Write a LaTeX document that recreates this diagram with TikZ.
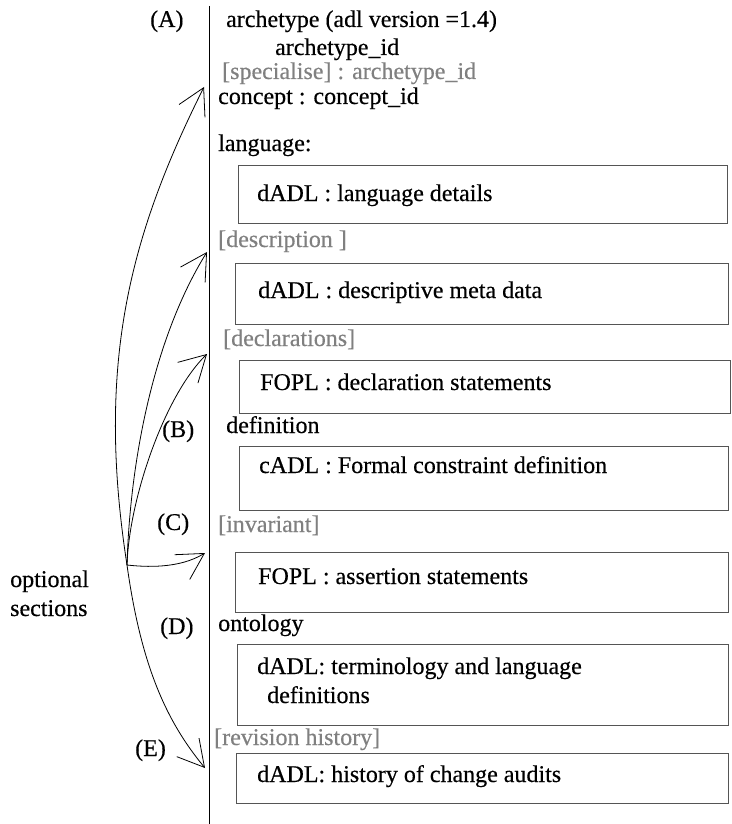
\documentclass[tikz,border=0pt]{standalone}
\usepackage{fontspec}
\setmainfont{Liberation Serif}[FakeBold=0.4]
\usetikzlibrary{arrows.meta}
\definecolor{optgray}{RGB}{128,128,128}
\definecolor{boxgray}{RGB}{85,85,85}
\begin{document}
\begin{tikzpicture}[x=1pt,y=-1pt,
  txt/.style={anchor=base west, inner sep=0pt, font=\fontsize{24}{28}\selectfont, text=black},
  opt/.style={txt, text=optgray},
  secbox/.style={draw=boxgray, line width=1.3pt, anchor=north west, inner sep=0pt},
  barbtip/.tip={Straight Barb[length=26pt,width=29pt,line width=0.8pt]},
  link/.style={line width=0.8pt, -barbtip},
  twoway/.style={line width=0.8pt, barbtip-barbtip},
]
\useasboundingbox (0,0) rectangle (731,824);

% spine of the archetype
\draw[line width=0.8pt] (209,6) -- (209,824);

% header lines
\node[txt] (lA) at (150,27) {(A)};
\node[txt] (head) at (226,27) {archetype (adl version =1.4)};
\node[txt] (aid) at (275,55) {archetype\_id};
\node[opt] (spec) at (222,79) {[specialise] : archetype\_id};
\node[txt] (concept) at (218,104) {concept : concept\_id};
\node[txt] (lang) at (218,151) {language:};

% language section
\node[secbox, minimum width=489pt, minimum height=58pt] (b1) at (238,165) {};
\node[txt] (t1) at (257,201) {dADL : language details};

% description section
\node[opt] (desc) at (218,247) {[description ]};
\node[secbox, minimum width=493pt, minimum height=61pt] (b2) at (235,263) {};
\node[txt] (t2) at (258,298) {dADL : descriptive meta data};

% declarations section
\node[opt] (decl) at (223,346) {[declarations]};
\node[secbox, minimum width=491pt, minimum height=53pt] (b3) at (239,360) {};
\node[txt] (t3) at (260,390) {FOPL : declaration statements};

% definition section
\node[txt] (lB) at (162,437) {(B)};
\node[txt] (defn) at (226,433) {definition};
\node[secbox, minimum width=489pt, minimum height=64pt] (b4) at (239,446) {};
\node[txt] (t4) at (259,473) {cADL : Formal constraint definition};

% invariant section
\node[txt] (lC) at (157,530) {(C)};
\node[opt] (inv) at (218,532) {[invariant]};
\node[secbox, minimum width=493pt, minimum height=60pt] (b5) at (235,552) {};
\node[txt] (t5) at (258,584) {FOPL : assertion statements};

% ontology section
\node[txt] (lD) at (160,634) {(D)};
\node[txt] (onto) at (218,631) {ontology};
\node[secbox, minimum width=491pt, minimum height=81pt] (b6) at (237,644) {};
\node[txt] (t6a) at (257,674) {dADL: terminology and language};
\node[txt] (t6b) at (267,703) {definitions};

% revision history section
\node[opt] (rev) at (214,745) {[revision history]};
\node[txt] (lE) at (135,756) {(E)};
\node[secbox, minimum width=492pt, minimum height=50pt] (b7) at (236,753) {};
\node[txt] (t7) at (257,782) {dADL: history of change audits};

% side caption
\node[txt] (cap1) at (10,587) {optional};
\node[txt] (cap2) at (10,616) {sections};

% arrows to the optional parts
\coordinate (O) at (127,565);
\coordinate (tA) at (204,87);
\coordinate (tDesc) at (207,252);
\coordinate (tDecl) at (207,354);
\coordinate (tInv) at (205,553);
\coordinate (tE) at (205,768);

\draw[twoway] (tA) .. controls (129,237) and (96,365) .. (O)
              .. controls (141,665) and (166,721) .. (tE);
\draw[link] (O) .. controls (130,460) and (154,337) .. (tDesc);
\draw[link] (O) .. controls (129,500) and (164,396) .. (tDecl);
\draw[link] (O) .. controls (145,567) and (179,569) .. (tInv);
\end{tikzpicture}
\end{document}
